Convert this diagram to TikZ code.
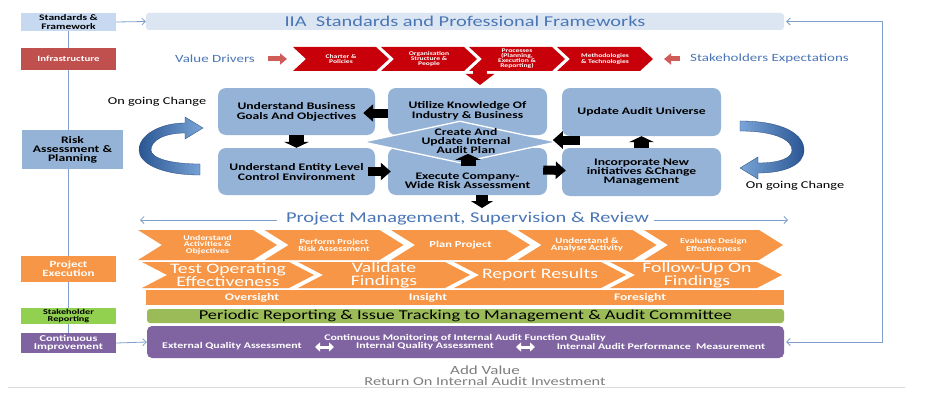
\documentclass[tikz,border=0pt]{standalone}
\usepackage{fontspec}
\setmainfont{Carlito}[FakeStretch=1.36]
\usetikzlibrary{arrows.meta,shapes.geometric,calc}
\pgfdeclarelayer{bg}
\pgfsetlayers{bg,main}
\definecolor{hdrblue}{HTML}{DCE6F2}
\definecolor{stdblue}{HTML}{C6D9F1}
\definecolor{infrared}{HTML}{C0504D}
\definecolor{chevred}{HTML}{C8000A}
\definecolor{smallred}{HTML}{D05C5A}
\definecolor{midblue}{HTML}{95B3D7}
\definecolor{orng}{HTML}{F79646}
\definecolor{grn}{HTML}{92D050}
\definecolor{olive}{HTML}{9BBB59}
\definecolor{purp}{HTML}{8064A2}
\definecolor{txtblue}{HTML}{4A76B6}
\definecolor{lineblue}{HTML}{7F9FCC}
\definecolor{graytxt}{HTML}{7F7F7F}
\definecolor{curvdark}{HTML}{2A5694}
\definecolor{curvlight}{HTML}{7AA5D8}
\newcommand\myfs[2]{\fontsize{#1pt}{#2pt}\selectfont}
\newcommand\mychev[6]{%
  \fill[#6] (#1,#2) -- ({#1+#3-#5},#2) -- ({#1+#3},{#2+#4/2}) -- ({#1+#3-#5},{#2+#4}) -- (#1,{#2+#4}) -- ({#1+#5},{#2+#4/2}) -- cycle;}
\tikzset{
  sidebox/.style={minimum width=95pt, inner sep=0pt, align=center, font=\bfseries},
  midbox/.style={fill=midblue, rounded corners=8pt, inner sep=0pt},
  midtxt/.style={align=center, font=\bfseries\myfs{10}{9.5}, text=black},
  chtxt/.style={align=center, text=white, inner sep=0pt},
  conn/.style={draw=lineblue, line width=0.8pt, -{Straight Barb[length=3.5pt,width=7pt]}},
  hblk/.style={draw=black, line width=9pt, -{Triangle[length=10pt,width=17pt]}},
  vblk/.style={draw=black, line width=15pt, -{Triangle[length=6pt,width=25pt]}},
  redsm/.style={draw=smallred, line width=5pt, -{Triangle[length=7pt,width=11pt]}},
  dblarr/.style={draw=white, line width=3pt, {Triangle[length=5pt,width=9pt]}-{Triangle[length=5pt,width=9pt]}},
}
\begin{document}
\begin{tikzpicture}[x=1pt,y=-1pt]
\useasboundingbox (0,0) rectangle (926,404);
\begin{pgfonlayer}{bg}
\fill[white] (0,0) rectangle (926,404);
\end{pgfonlayer}

% left column
\node[sidebox, fill=stdblue, minimum height=18pt, font=\bfseries\myfs{8.5}{8.5}] (std) at (68.5,22) {Standards \&\\Framework};
\node[sidebox, fill=infrared, minimum height=22pt, text=white, font=\bfseries\myfs{8}{8}] (infra) at (68.5,59) {Infrastructure};
\node[sidebox, fill=midblue, minimum width=101pt, minimum height=39pt, font=\bfseries\myfs{10}{9}] (risk) at (72.5,149.5) {Risk\\Assessment \&\\Planning};
\node[sidebox, fill=orng, minimum height=26pt, text=white, font=\bfseries\myfs{9.5}{9}] (proj) at (68.5,269) {Project\\Execution};
\node[sidebox, fill=grn, minimum height=16pt, font=\bfseries\myfs{7.5}{7}] (stake) at (68.5,316) {Stakeholder\\Reporting};
\node[sidebox, fill=purp, minimum height=20pt, text=white, font=\bfseries\myfs{9}{8}] (ci) at (68.5,343) {Continuous\\Improvement};
\begin{pgfonlayer}{bg}
\draw[draw=lineblue, line width=0.9pt] (std.south) -- (std.south |- ci.north);
\end{pgfonlayer}

% header
\node[fill=hdrblue, rounded corners=3pt, minimum width=638pt, minimum height=17pt, inner sep=0pt, text=txtblue, font=\myfs{15}{15}] (hdr) at (465,21.5) {IIA\ \ Standards and Professional Frameworks};

% infrastructure row
\node[text=txtblue, font=\myfs{11}{11}, inner sep=0pt] (vd) at (215,59) {Value Drivers};
\coordinate (vda) at (268,59);
\coordinate (vdb) at (287,59);
\draw[redsm] (vda) -- (vdb);
\mychev{293}{47}{96}{24}{13}{chevred}
\mychev{381}{47}{96}{24}{13}{chevred}
\mychev{469}{47}{96}{24}{13}{chevred}
\mychev{557}{47}{96}{24}{13}{chevred}
\node[chtxt, font=\bfseries\myfs{5.6}{5.4}] (r1) at (341,59) {Charter \&\\Policies};
\node[chtxt, font=\bfseries\myfs{5.6}{5.4}] (r2) at (429,59) {Organisation\\Structure \&\\People};
\node[chtxt, font=\bfseries\myfs{5.6}{4.9}] (r3) at (517,59) {Processes\\(Planning,\\Execution \&\\Reporting)};
\node[chtxt, font=\bfseries\myfs{5.6}{5.4}] (r4) at (605,59) {Methodologies\\\& Technologies};
\coordinate (sea) at (680,59);
\coordinate (seb) at (664,59);
\draw[redsm] (sea) -- (seb);
\node[text=txtblue, font=\myfs{11}{11}, inner sep=0pt, anchor=west] (se) at (690,59) {Stakeholders Expectations};

% middle block
\node[midbox, minimum width=157pt, minimum height=47pt] (ub) at (296.5,111.5) {};
\node[midbox, minimum width=159pt, minimum height=47pt] (ut) at (467.5,111.5) {};
\node[midbox, minimum width=157pt, minimum height=47pt] (ent) at (296.5,171.5) {};
\node[midbox, minimum width=159pt, minimum height=47pt] (exe) at (467.5,171.5) {};
\node[midbox, minimum width=159pt, minimum height=48pt] (upd) at (641.5,112) {};
\node[midbox, minimum width=159pt, minimum height=48pt] (inc) at (641.5,172) {};
\node[diamond, fill=midblue, draw=white, line width=1.3pt, minimum width=194pt, minimum height=42pt, inner sep=0pt] (dia) at (460,142) {};
\node[midtxt] (ubT) at (296.5,112) {Understand Business\\Goals And Objectives};
\node[midtxt] (utT) at (467.5,111) {Utilize Knowledge Of\\Industry \& Business};
\node[midtxt] (entT) at (296.5,172) {Understand Entity Level\\Control Environment};
\node[midtxt] (exeT) at (467.5,181) {Execute Company-\\Wide Risk Assessment};
\node[midtxt] (updT) at (641.5,112) {Update Audit Universe};
\node[midtxt, font=\bfseries\myfs{10}{9}] (incT) at (641.5,172) {Incorporate New\\initiatives \&Change\\Management};
\node[midtxt, font=\bfseries\myfs{10}{9}] (diaT) at (466,141.5) {Create And\\Update Internal\\Audit Plan};

% red down arrow
\coordinate (rda) at (480,70);
\coordinate (rdb) at (480,85);
\draw[draw=chevred, line width=14pt, -{Triangle[length=11pt,width=28pt]}] (rda) -- (rdb);

% black arrows
\draw[hblk] ($(ut.west)+(0,1.5)$) -- ($(ub.east)+(-12,1.5)$);
\draw[vblk] (ub.south) -- (ent.north);
\draw[hblk] ($(ent.east)+(-7,0)$) -- ($(exe.west)+(3,0)$);
\draw[vblk] ($(exe.north)+(0.5,18)$) -- ($(exe.north)+(0.5,6)$);
\draw[hblk] ($(exe.east)+(-4,-1.5)$) -- ($(inc.west)+(4,-1.5)$);
\draw[vblk] (inc.north) -- (upd.south);
\draw[hblk] ($(upd.west)+(18,28)$) -- ($(upd.west)+(-9,28)$);
\coordinate (exd) at (482,208);
\draw[draw=black, line width=12pt, -{Triangle[length=7pt,width=22pt]}] (exe.south -| exd) -- (exd);

% curved arrows
\shade[left color=curvdark, right color=curvlight, draw=curvdark!80!black, line width=0.3pt]
  (200,175) .. controls (160,175) and (139,163) .. (139,150)
  .. controls (139,135) and (160,123) .. (185,123) -- (185,117) -- (203,128) -- (185,139) -- (185,133)
  .. controls (165,133) and (151,140) .. (151,150)
  .. controls (151,158) and (170,164) .. (200,164) -- cycle;
\shade[left color=curvlight, right color=curvdark, draw=curvdark!80!black, line width=0.3pt]
  (740,121) .. controls (785,121) and (804,135) .. (804,150)
  .. controls (804,165) and (785,173) .. (758,173) -- (758,179) -- (740,168) -- (758,157) -- (758,163)
  .. controls (780,163) and (792,158) .. (792,150)
  .. controls (792,140) and (775,131) .. (740,131) -- cycle;
\node[font=\myfs{10.5}{10.5}, inner sep=0pt] (ogc1) at (157,102) {On going Change};
\node[font=\myfs{10.5}{10.5}, inner sep=0pt] (ogc2) at (795,186) {On going Change};

% project management
\node[text=txtblue, font=\myfs{15}{15}, inner sep=0pt] (pm) at (467.5,218.5) {Project Management, Supervision \& Review};
\coordinate (pml) at (140,220);
\coordinate (pmr) at (788,220);
\draw[conn] ($(pm.west |- pml)+(-9,0)$) -- (pml);
\draw[conn] ($(pm.east |- pmr)+(5,0)$) -- (pmr);

% orange row 1
\mychev{138}{230}{139}{30}{24}{orng}
\mychev{264.5}{230}{139}{30}{24}{orng}
\mychev{391}{230}{139}{30}{24}{orng}
\mychev{517.5}{230}{139}{30}{24}{orng}
\mychev{644}{230}{139}{30}{24}{orng}
\node[chtxt, font=\bfseries\myfs{7.3}{6.9}] (o1) at (207.5,245) {Understand\\Activities \&\\Objectives};
\node[chtxt, font=\bfseries\myfs{7.7}{7.3}] (o2) at (334,245) {Perform Project\\Risk Assessment};
\node[chtxt, font=\bfseries\myfs{9.2}{9}] (o3) at (460.5,245) {Plan Project};
\node[chtxt, font=\bfseries\myfs{8}{7.5}] (o4) at (587,245) {Understand \&\\Analyse Activity};
\node[chtxt, font=\bfseries\myfs{7.5}{7.3}] (o5) at (713.5,245) {Evaluate Design\\Effectiveness};

% orange row 2
\mychev{142}{262}{172}{26}{25}{orng}
\mychev{298}{262}{172}{26}{25}{orng}
\mychev{454}{262}{172}{26}{25}{orng}
\mychev{610}{262}{172}{26}{25}{orng}
\node[chtxt, font=\myfs{14.5}{13}] (p1) at (228,275) {Test Operating\\Effectiveness};
\node[chtxt, font=\myfs{14.5}{13}] (p2) at (384,275) {Validate\\Findings};
\node[chtxt, font=\myfs{14.5}{13}] (p3) at (540,275) {Report Results};
\node[chtxt, font=\myfs{14.5}{13}] (p4) at (697,275) {Follow-Up On\\Findings};

% oversight bar
\node[fill=orng, minimum width=638pt, minimum height=15pt, inner sep=0pt] (ois) at (465,297.5) {};
\node[chtxt, font=\bfseries\myfs{10}{10}] (ov) at (252,297.5) {Oversight};
\node[chtxt, font=\bfseries\myfs{10}{10}] (in) at (428,297.5) {Insight};
\node[chtxt, font=\bfseries\myfs{10}{10}] (fo) at (640,297.5) {Foresight};

% periodic reporting
\node[fill=olive, rounded corners=3pt, minimum width=637pt, minimum height=14pt, inner sep=0pt, font=\myfs{13.5}{13.5}] (per) at (465.5,316) {Periodic Reporting \& Issue Tracking to Management \& Audit Committee};

% purple
\node[fill=purp, rounded corners=5pt, minimum width=637pt, minimum height=32pt, inner sep=0pt] (purpbox) at (465.5,342) {};
\node[chtxt, font=\bfseries\myfs{8.7}{8.7}] (cm) at (465,338) {Continuous Monitoring of Internal Audit Function Quality};
\node[chtxt, font=\bfseries\myfs{8.7}{8.7}] (eqa) at (232,346.5) {External Quality Assessment};
\node[chtxt, font=\bfseries\myfs{8.7}{8.7}] (iqa) at (425,346.5) {Internal Quality Assessment};
\node[chtxt, font=\bfseries\myfs{8.7}{8.7}] (iap) at (661,346.5) {Internal Audit Performance\ \ Measurement};
\coordinate (d1a) at (315,347);
\coordinate (d1b) at (334,347);
\coordinate (d2a) at (516,347);
\coordinate (d2b) at (535,347);
\draw[dblarr] (d1a) -- (d1b);
\draw[dblarr] (d2a) -- (d2b);

% bottom texts
\node[text=graytxt, font=\myfs{12.5}{12.5}, inner sep=0pt] (av) at (485,370) {Add Value};
\node[text=graytxt, font=\myfs{12}{12}, inner sep=0pt] (roi) at (485,381) {Return On Internal Audit Investment};
\coordinate (bl1) at (8,387);
\coordinate (bl2) at (905,387);
\draw[draw=black!15, line width=0.8pt] (bl1) -- (bl2);

% connectors
\draw[conn] (std.east) -- (hdr.west);
\draw[conn] (ci.east) -- (purpbox.west);
\coordinate (fbx) at (882,200);
\draw[draw=lineblue, line width=0.8pt, {Straight Barb[length=3.5pt,width=7pt]}-{Straight Barb[length=3.5pt,width=7pt]}] ($(hdr.east)+(2,0)$) -| (fbx) |- ($(purpbox.east)+(2,0)$);
\end{tikzpicture}
\end{document}
